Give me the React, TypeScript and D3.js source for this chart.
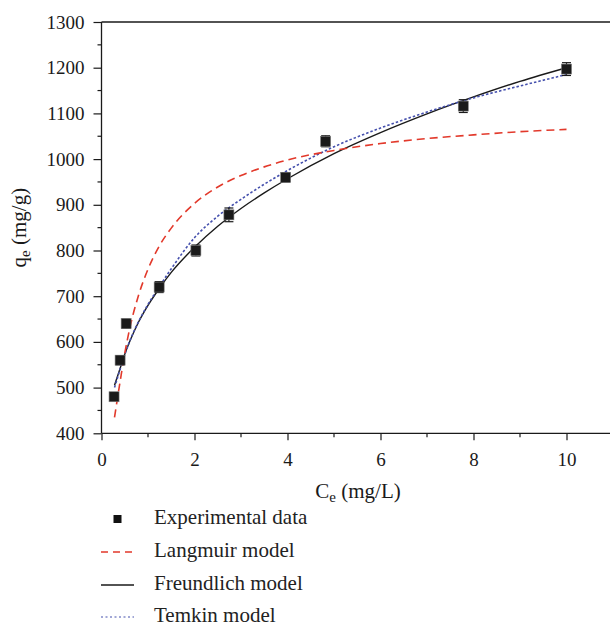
import { useRef, useEffect } from "react";
import * as d3 from "d3";

// experimental points
const ceData = [0.27, 0.4, 0.53, 1.24, 2.03, 2.74, 3.96, 4.82, 7.78, 10.0];
const qeData = [480, 560, 640, 720, 800, 878, 960, 1039, 1116, 1197];
const qeErr = [8, 10, 10, 12, 12, 15, 10, 12, 14, 14];

// fitted model curves
const ceModel = [0.28, 0.4, 0.5, 0.6, 0.8, 1.0, 1.25, 1.5, 2, 2.5, 3, 3.5, 4, 5, 6, 7, 8, 9, 10];
const langmuir = [435, 513, 575, 626, 703, 759, 811, 849, 903, 939, 964, 983, 998, 1019, 1034, 1045, 1053, 1060, 1065];
const freundlich = [505, 542, 573, 599, 644, 680, 718, 752, 807, 853, 892, 926, 957, 1012, 1058, 1099, 1136, 1170, 1200];
const temkin = [500, 540, 572, 600, 645, 682, 722, 760, 828, 875, 912, 945, 975, 1027, 1068, 1103, 1134, 1160, 1185];

const xTicks = [0, 2, 4, 6, 8, 10];
const yTicks = [400, 500, 600, 700, 800, 900, 1000, 1100, 1200, 1300];

const legendLabels = ["Experimental data", "Langmuir model", "Freundlich model", "Temkin model"];

const W = 610;
const H = 626;
const left = 101.5;
const top = 22;
const bottom = 433.3;
const font = "'Liberation Serif', 'Times New Roman', serif";
const ink = "#1a1a1a";
const red = "#e2392b";
const blue = "#4550ad";

const App = () => {
  const svgRef = useRef(null);

  useEffect(() => {
    const svg = d3.select(svgRef.current);
    svg.selectAll("*").remove();

    const x = d3.scaleLinear().domain([0, 11]).range([left, left + 11 * 46.5]);
    const y = d3.scaleLinear().domain([400, 1300]).range([bottom, top]);

    // top frame line
    svg.append("line").attr("x1", left).attr("x2", W + 5).attr("y1", top).attr("y2", top)
      .attr("stroke", ink).attr("stroke-width", 1.3);

    const xAxis = d3.axisBottom(x).tickValues(xTicks).tickSize(7).tickPadding(12).tickFormat(d3.format("d"));
    const yAxis = d3.axisLeft(y).tickValues(yTicks).tickSize(8).tickPadding(9).tickFormat(d3.format("d"));

    const gx = svg.append("g").attr("transform", `translate(0,${bottom})`).call(xAxis);
    const gy = svg.append("g").attr("transform", `translate(${left},0)`).call(yAxis);

    // minor ticks
    gx.selectAll(".minor").data([1, 3, 5, 7, 9]).join("line")
      .attr("x1", (d) => x(d)).attr("x2", (d) => x(d)).attr("y1", 0).attr("y2", 4)
      .attr("stroke", ink).attr("stroke-width", 1.2);
    gy.selectAll(".minor").data([450, 550, 650, 750, 850, 950, 1050, 1150, 1250]).join("line")
      .attr("x1", -4).attr("x2", 0).attr("y1", (d) => y(d)).attr("y2", (d) => y(d))
      .attr("stroke", ink).attr("stroke-width", 1.2);

    [gx, gy].forEach((g) => {
      g.attr("font-family", font).attr("font-size", 19);
      g.select(".domain").remove();
      g.selectAll(".tick line").attr("stroke", ink).attr("stroke-width", 1.2);
      g.selectAll("text").attr("fill", ink).attr("font-family", font).style("font-family", font).style("font-size", "19px");
    });
    svg.append("line").attr("x1", left).attr("x2", W + 5).attr("y1", bottom).attr("y2", bottom)
      .attr("stroke", ink).attr("stroke-width", 1.3);
    svg.append("line").attr("x1", left).attr("x2", left).attr("y1", top).attr("y2", bottom)
      .attr("stroke", ink).attr("stroke-width", 1.3);

    // axis titles
    const xt = svg.append("text").attr("x", 358).attr("y", 498).attr("text-anchor", "middle")
      .attr("fill", ink).style("font-family", font).style("font-size", "21px");
    xt.append("tspan").text("C");
    xt.append("tspan").attr("dy", 4).style("font-size", "15px").text("e");
    xt.append("tspan").attr("dy", -4).text(" (mg/L)");

    const yt = svg.append("text").attr("transform", `translate(26,${(top + bottom) / 2}) rotate(-90)`)
      .attr("text-anchor", "middle").attr("fill", ink).style("font-family", font).style("font-size", "21px");
    yt.append("tspan").text("q");
    yt.append("tspan").attr("dy", 4).style("font-size", "15px").text("e");
    yt.append("tspan").attr("dy", -4).text(" (mg/g)");

    // model curves
    const line = (vals) =>
      d3.line().x((d, i) => x(ceModel[i])).y((d) => y(d)).curve(d3.curveMonotoneX)(vals);

    svg.append("path").attr("d", line(freundlich)).attr("fill", "none")
      .attr("stroke", ink).attr("stroke-width", 1.4);
    svg.append("path").attr("d", line(temkin)).attr("fill", "none")
      .attr("stroke", blue).attr("stroke-width", 1.6).attr("stroke-dasharray", "2.5,2");
    svg.append("path").attr("d", line(langmuir)).attr("fill", "none")
      .attr("stroke", red).attr("stroke-width", 1.6).attr("stroke-dasharray", "8,5");

    // error bars + markers
    const pts = ceData.map((c, i) => ({ c, q: qeData[i], e: qeErr[i] }));
    const eb = svg.append("g").attr("stroke", ink).attr("stroke-width", 1.2);
    pts.forEach((d) => {
      eb.append("line").attr("x1", x(d.c)).attr("x2", x(d.c)).attr("y1", y(d.q - d.e)).attr("y2", y(d.q + d.e));
      [d.q - d.e, d.q + d.e].forEach((v) => {
        eb.append("line").attr("x1", x(d.c) - 4.5).attr("x2", x(d.c) + 4.5).attr("y1", y(v)).attr("y2", y(v));
      });
    });
    svg.append("g").selectAll("rect").data(pts).join("rect")
      .attr("x", (d) => x(d.c) - 5).attr("y", (d) => y(d.q) - 5)
      .attr("width", 10).attr("height", 10)
      .attr("fill", ink).attr("stroke", "#777").attr("stroke-width", 0.6);

    // legend
    const lg = svg.append("g");
    const rowY = [519, 552, 585, 617];
    lg.append("rect").attr("x", 113.5).attr("y", rowY[0] - 4).attr("width", 8).attr("height", 8).attr("fill", "#111");
    lg.append("line").attr("x1", 101).attr("x2", 134).attr("y1", rowY[1]).attr("y2", rowY[1])
      .attr("stroke", red).attr("stroke-width", 1.4).attr("stroke-dasharray", "7,5");
    lg.append("line").attr("x1", 101).attr("x2", 134).attr("y1", rowY[2]).attr("y2", rowY[2])
      .attr("stroke", ink).attr("stroke-width", 1.4);
    lg.append("line").attr("x1", 101).attr("x2", 134).attr("y1", rowY[3]).attr("y2", rowY[3])
      .attr("stroke", blue).attr("stroke-width", 1.2).attr("stroke-dasharray", "2,2.5");
    lg.selectAll("text").data(legendLabels).join("text")
      .attr("x", 154).attr("y", (d, i) => rowY[i] + 5)
      .attr("fill", "#222").style("font-family", font).style("font-size", "21px")
      .text((d) => d);
  }, []);

  return (
    <svg ref={svgRef} width={W} height={H}
      style={{ position: "absolute", left: 0, top: 0, background: "#fff" }} />
  );
};

export default App;
